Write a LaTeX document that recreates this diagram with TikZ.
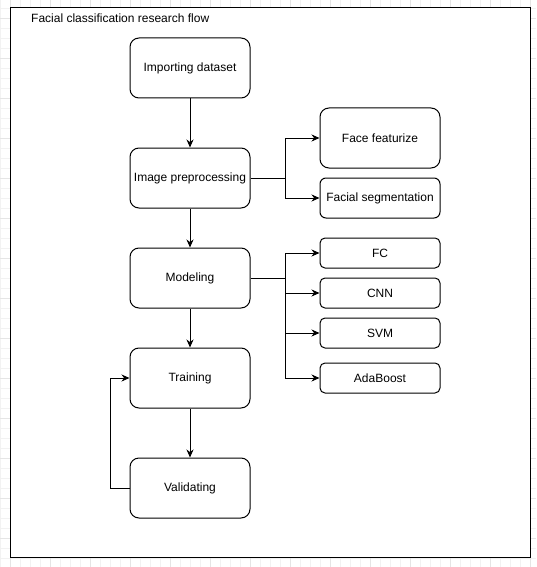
\documentclass[tikz,border=0pt]{standalone}
\usepackage{fontspec}
\setmainfont{Liberation Sans}
\usetikzlibrary{arrows.meta,calc}
\begin{document}
\begin{tikzpicture}[x=1pt,y=-1pt,
  box/.style={draw=black,line width=1pt,rounded corners=9pt,minimum width=120pt,minimum height=60pt,inner sep=0pt,font=\fontsize{12}{14}\selectfont,fill=white},
  sbox/.style={box,minimum height=30pt,rounded corners=5pt},
  mbox/.style={box,minimum height=40pt,rounded corners=6pt},
  arr/.style={draw=black,line width=1pt,-{Stealth[length=8pt,width=7pt]}},
  link/.style={draw=black,line width=1pt}]
\useasboundingbox (0,0) rectangle (536,567);
% background grid
\foreach \x in {0,10,...,530} \draw[color=black!5,line width=0.6pt] (\x,0) -- (\x,567);
\foreach \y in {8,18,...,567} \draw[color=black!5,line width=0.6pt] (0,\y) -- (536,\y);
\foreach \x in {10,50,...,530} \draw[color=black!10,line width=0.6pt] (\x,0) -- (\x,567);
\foreach \y in {18,58,...,567} \draw[color=black!10,line width=0.6pt] (0,\y) -- (536,\y);
% container
\draw[line width=1.2pt,fill=white] (10.5,7.5) rectangle (530.5,557.5);
\node[anchor=west,inner sep=0pt,font=\fontsize{12}{14}\selectfont] (title) at (31,18) {Facial classification research flow};
% nodes
\node[box] (imp) at (190,68) {Importing dataset};
\node[box] (pre) at (190,178) {Image preprocessing};
\node[box] (mod) at (190,278) {Modeling};
\node[box] (tr) at (190,378) {Training};
\node[box] (val) at (190,488) {Validating};
\node[box] (ff) at (380,138) {Face featurize};
\node[mbox] (fs) at (380,198) {Facial segmentation};
\node[sbox] (fc) at (380,253) {FC};
\node[sbox] (cnn) at (380,293) {CNN};
\node[sbox] (svm) at (380,333) {SVM};
\node[sbox] (ada) at (380,378) {AdaBoost};
% connectors
\draw[arr] (imp) -- (pre);
\draw[arr] (pre) -- (mod);
\draw[arr] (mod) -- (tr);
\draw[arr] (tr) -- (val);
\coordinate (pj) at (285,178);
\coordinate (mj) at (285,278);
\draw[link] (pre.east) -- (pj);
\draw[arr] (pj) |- (ff.west);
\draw[arr] (pj) |- (fs.west);
\draw[link] (mod.east) -- (mj);
\draw[arr] (mj) |- (fc.west);
\draw[arr] (mj) |- (cnn.west);
\draw[arr] (mj) |- (svm.west);
\draw[arr] (mj) |- (ada.west);
\coordinate (lp) at (110,488);
\draw[link] (val.west) -- (lp);
\draw[arr] (lp) |- (tr.west);
\end{tikzpicture}
\end{document}
